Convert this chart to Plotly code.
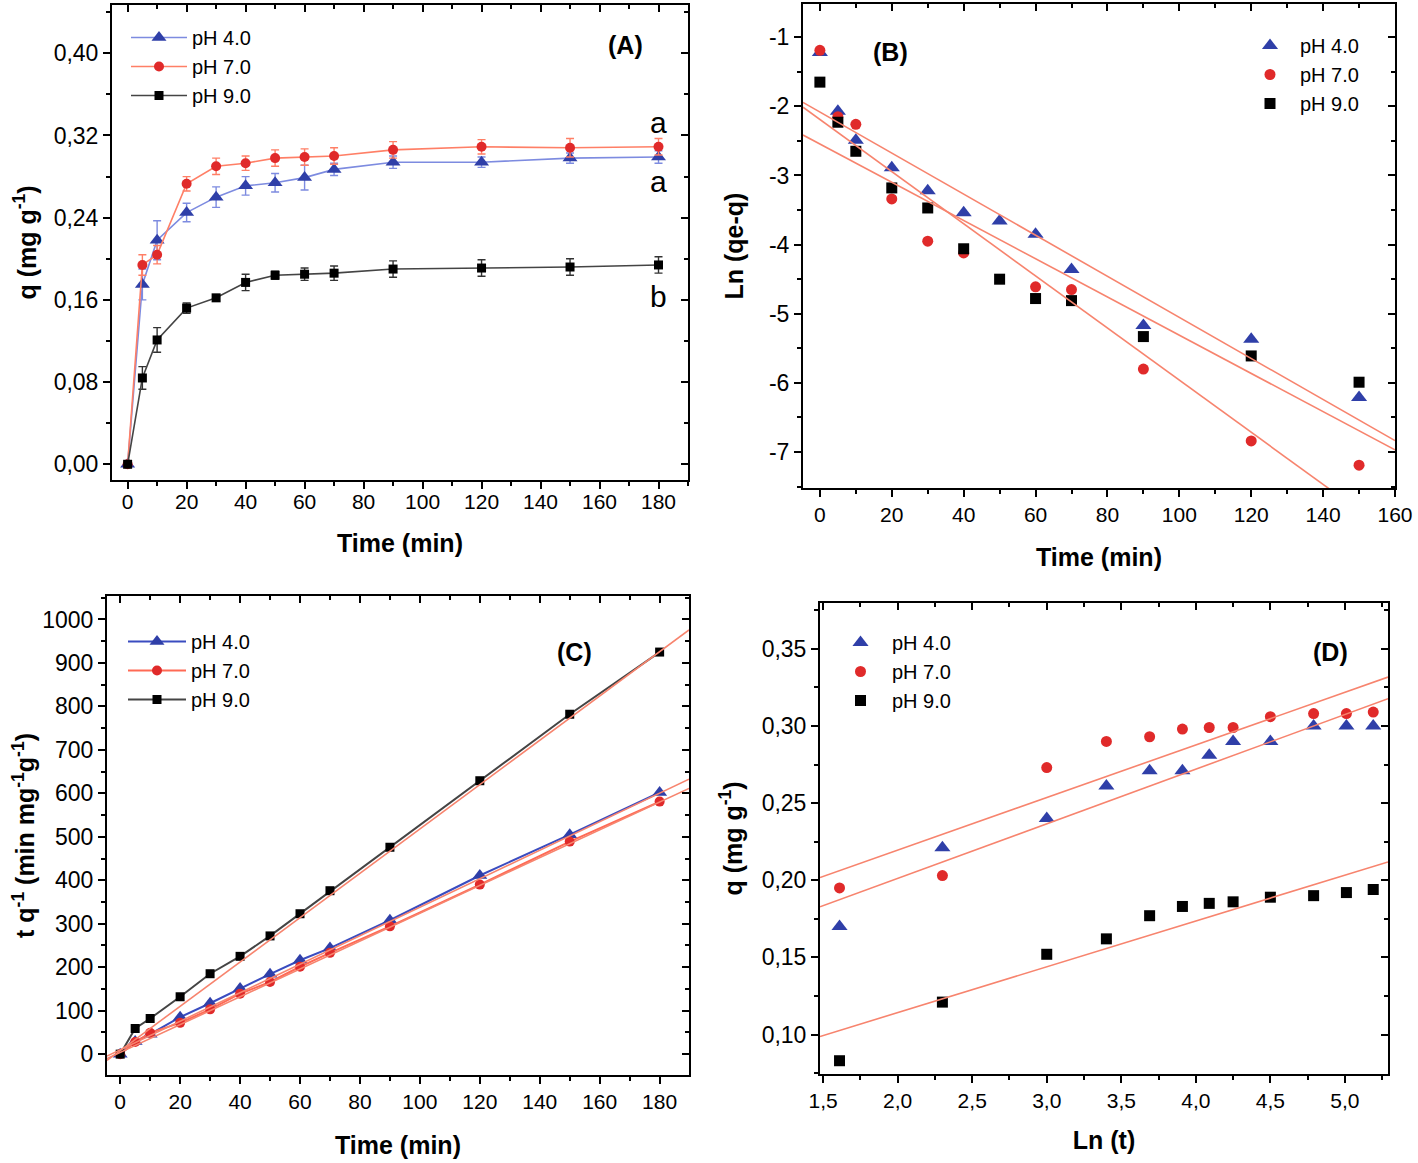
import plotly.graph_objects as go

W, H = 1418, 1163
FONT = "Liberation Sans, Arial, sans-serif"

# ---------------- data ----------------
series_names = ["pH 4.0", "pH 7.0", "pH 9.0"]

# (A) kinetics q vs time
t_A = [0, 5, 10, 20, 30, 40, 50, 60, 70, 90, 120, 150, 180]
qA_ph4 = [0, 0.175, 0.218, 0.245, 0.260, 0.271, 0.274, 0.279, 0.287, 0.294, 0.294, 0.298, 0.299]
qA_ph7 = [0, 0.194, 0.204, 0.273, 0.290, 0.293, 0.298, 0.299, 0.300, 0.306, 0.309, 0.308, 0.309]
qA_ph9 = [0, 0.084, 0.121, 0.152, 0.162, 0.177, 0.184, 0.185, 0.186, 0.190, 0.191, 0.192, 0.194]
errA_ph4 = [0, 0.015, 0.019, 0.009, 0.010, 0.009, 0.009, 0.012, 0.006, 0.006, 0.005, 0.005, 0.006]
errA_ph7 = [0, 0.010, 0.009, 0.007, 0.008, 0.007, 0.008, 0.008, 0.008, 0.008, 0.007, 0.009, 0.008]
errA_ph9 = [0, 0.011, 0.012, 0.005, 0.003, 0.008, 0.004, 0.006, 0.007, 0.008, 0.008, 0.008, 0.008]
letters_A = ["a", "a", "b"]
letters_A_y = [0.333, 0.275, 0.163]

# (B) pseudo-first-order Ln(qe-q) vs time
t_B4 = [0, 5, 10, 20, 30, 40, 50, 60, 70, 90, 120, 150]
lnB_ph4 = [-1.22, -2.07, -2.49, -2.89, -3.22, -3.54, -3.66, -3.85, -4.36, -5.17, -5.37, -6.21]
t_B7 = [0, 5, 10, 20, 30, 40, 60, 70, 90, 120, 150]
lnB_ph7 = [-1.19, -2.15, -2.26, -3.34, -3.95, -4.12, -4.61, -4.65, -5.80, -6.84, -7.19]
t_B9 = [0, 5, 10, 20, 30, 40, 50, 60, 70, 90, 120, 150]
lnB_ph9 = [-1.65, -2.23, -2.65, -3.18, -3.47, -4.06, -4.50, -4.78, -4.81, -5.33, -5.61, -5.99]
fitB_intercept = [-2.082, -2.19, -2.545]
fitB_slope = [-0.0297, -0.0377, -0.02765]

# (C) pseudo-second-order t/q vs time
t_C = [0, 5, 10, 20, 30, 40, 50, 60, 70, 90, 120, 150, 180]
C_ph4 = [0, 29, 46, 85, 117, 151, 184, 216, 244, 308, 411, 505, 602]
C_ph7 = [0, 28, 49, 72, 103, 139, 166, 201, 233, 294, 390, 489, 581]
C_ph9 = [0, 59, 82, 132, 185, 225, 272, 323, 376, 476, 629, 782, 925]
fitC_intercept = [10, 4, 8]
fitC_slope = [3.28, 3.20, 5.10]

# (D) Elovich q vs Ln(t)
lnt_D = [1.61, 2.30, 3.00, 3.40, 3.69, 3.91, 4.09, 4.25, 4.50, 4.79, 5.01, 5.19]
D_ph4 = [0.170, 0.221, 0.240, 0.261, 0.271, 0.271, 0.281, 0.290, 0.290, 0.300, 0.300, 0.300]
D_ph7 = [0.195, 0.203, 0.273, 0.290, 0.293, 0.298, 0.299, 0.299, 0.306, 0.308, 0.308, 0.309]
D_ph9 = [0.083, 0.121, 0.152, 0.162, 0.177, 0.183, 0.185, 0.186, 0.189, 0.190, 0.192, 0.194]
fitD_intercept = [0.1304, 0.1513, 0.0548]
fitD_slope = [0.0354, 0.0341, 0.0297]

# tick labels
tickA_x = [0, 20, 40, 60, 80, 100, 120, 140, 160, 180]
tickA_y = [0.0, 0.08, 0.16, 0.24, 0.32, 0.40]
tickA_y_text = ["0,00", "0,08", "0,16", "0,24", "0,32", "0,40"]
tickB_x = [0, 20, 40, 60, 80, 100, 120, 140, 160]
tickB_y = [-7, -6, -5, -4, -3, -2, -1]
tickB_y_text = ["-7", "-6", "-5", "-4", "-3", "-2", "-1"]
tickC_x = tickA_x
tickC_y = [0, 100, 200, 300, 400, 500, 600, 700, 800, 900, 1000]
tickD_x = [1.5, 2.0, 2.5, 3.0, 3.5, 4.0, 4.5, 5.0]
tickD_x_text = ["1,5", "2,0", "2,5", "3,0", "3,5", "4,0", "4,5", "5,0"]
tickD_y = [0.10, 0.15, 0.20, 0.25, 0.30, 0.35]
tickD_y_text = ["0,10", "0,15", "0,20", "0,25", "0,30", "0,35"]

# ---------------- styles ----------------
MK_COL = ["#2f3fa8", "#e02a2a", "#000000"]
LN_COL = ["#7d8be0", "#ff7f66", "#444444"]
FIT_COL = "#f7846e"
SYMS = ["triangle-up", "circle", "square"]


def px_dom(a, b, total, flip=False):
    if flip:
        return [1 - b / total, 1 - a / total]
    return [a / total, b / total]


panels = {
    "A": dict(x=px_dom(112, 688, W), y=px_dom(5, 480, H, True), xr=[-5.3, 190], yr=[-0.0153, 0.447]),
    "B": dict(x=px_dom(803, 1395, W), y=px_dom(4, 488, H, True), xr=[-4.7, 160], yr=[-7.52, -0.52]),
    "C": dict(x=px_dom(107, 689, W), y=px_dom(596, 1075, H, True), xr=[-4.4, 189.8], yr=[-48, 1054]),
    "D": dict(x=px_dom(820, 1388, W), y=px_dom(603, 1074, H, True), xr=[1.479, 5.289], yr=[0.0744, 0.3797]),
}

fig = go.Figure()

# ---- A ----
for i, (q, e) in enumerate(zip([qA_ph4, qA_ph7, qA_ph9], [errA_ph4, errA_ph7, errA_ph9])):
    fig.add_trace(go.Scatter(
        x=t_A, y=q, mode="lines+markers", name=series_names[i],
        line=dict(color=LN_COL[i], width=1.6),
        marker=dict(symbol=SYMS[i], color=MK_COL[i], size=[13, 10, 9][i]),
        error_y=dict(type="data", array=e, color=LN_COL[i] if i < 2 else "#333333", thickness=1.4, width=4),
        xaxis="x", yaxis="y", legend="legend"))

# ---- B ----
for i, (tt, v) in enumerate(zip([t_B4, t_B7, t_B9], [lnB_ph4, lnB_ph7, lnB_ph9])):
    fig.add_trace(go.Scatter(
        x=tt, y=v, mode="markers", name=series_names[i],
        marker=dict(symbol=SYMS[i], color=MK_COL[i], size=[14, 11, 11][i]),
        xaxis="x2", yaxis="y2", legend="legend2"))
for i in range(3):
    xs = [panels["B"]["xr"][0], panels["B"]["xr"][1]]
    fig.add_trace(go.Scatter(
        x=xs, y=[fitB_intercept[i] + fitB_slope[i] * xv for xv in xs], mode="lines",
        line=dict(color=FIT_COL, width=1.6), showlegend=False, hoverinfo="skip",
        xaxis="x2", yaxis="y2"))

# ---- C ----
for i, v in enumerate([C_ph4, C_ph7, C_ph9]):
    fig.add_trace(go.Scatter(
        x=t_C, y=v, mode="lines+markers", name=series_names[i],
        line=dict(color=["#3a4cc0", "#ff6a55", "#444444"][i], width=2),
        marker=dict(symbol=SYMS[i], color=MK_COL[i], size=[13, 10, 9][i]),
        xaxis="x3", yaxis="y3", legend="legend3"))
for i in range(3):
    xs = [panels["C"]["xr"][0], panels["C"]["xr"][1]]
    fig.add_trace(go.Scatter(
        x=xs, y=[fitC_intercept[i] + fitC_slope[i] * xv for xv in xs], mode="lines",
        line=dict(color=FIT_COL, width=1.6), showlegend=False, hoverinfo="skip",
        xaxis="x3", yaxis="y3"))

# ---- D ----
for i, v in enumerate([D_ph4, D_ph7, D_ph9]):
    fig.add_trace(go.Scatter(
        x=lnt_D, y=v, mode="markers", name=series_names[i],
        marker=dict(symbol=SYMS[i], color=MK_COL[i], size=[14, 11, 11][i]),
        xaxis="x4", yaxis="y4", legend="legend4"))
for i in range(3):
    xs = [panels["D"]["xr"][0], panels["D"]["xr"][1]]
    fig.add_trace(go.Scatter(
        x=xs, y=[fitD_intercept[i] + fitD_slope[i] * xv for xv in xs], mode="lines",
        line=dict(color=FIT_COL, width=1.6), showlegend=False, hoverinfo="skip",
        xaxis="x4", yaxis="y4"))

# empty traces on mirror (inward tick) axes
for k in range(5, 9):
    fig.add_trace(go.Scatter(x=[None], y=[None], xaxis=f"x{k}", yaxis=f"y{k}",
                             showlegend=False, hoverinfo="skip"))

xtickfont = dict(family=FONT, size=21, color="black")
ytickfont = dict(family=FONT, size=23, color="black")
titlefont = dict(family=FONT, size=25, color="black")


def main_axis(dom, rng, tv, tt, dtick_minor, title, standoff, anchor, is_y, lab_off=0):
    return dict(domain=dom, range=rng, tickmode="array", tickvals=tv, ticktext=tt,
                ticks="outside", ticklen=7, tickwidth=2, tickcolor="black",
                minor=dict(dtick=dtick_minor, ticks="outside", ticklen=4, tickwidth=1.5, tickcolor="black"),
                showline=True, linewidth=2, linecolor="black", mirror=True, automargin=False,
                showgrid=False, zeroline=False, tickfont=ytickfont if is_y else xtickfont,
                ticklabelstandoff=lab_off,
                title=dict(text=title, font=titlefont, standoff=standoff), anchor=anchor)


def mirror_axis(rng, tv, dtick_minor, overlay, side, anchor):
    return dict(range=rng, overlaying=overlay, side=side, anchor=anchor, automargin=False,
                tickmode="array", tickvals=tv, showticklabels=False,
                ticks="inside", ticklen=7, tickwidth=2, tickcolor="black",
                minor=dict(dtick=dtick_minor, ticks="inside", ticklen=4, tickwidth=1.5, tickcolor="black"),
                showline=False, showgrid=False, zeroline=False)


tstr = lambda v: [str(x) for x in v]
xtitle = "<b>Time (min)</b>"
layout = dict(
    width=W, height=H, margin=dict(l=0, r=0, t=0, b=0, autoexpand=False),
    paper_bgcolor="white", plot_bgcolor="white", font=dict(family=FONT, color="black"),
    xaxis=main_axis(panels["A"]["x"], panels["A"]["xr"], tickA_x, tstr(tickA_x), 10, xtitle, 22, "y", False, -5),
    yaxis=main_axis(panels["A"]["y"], panels["A"]["yr"], tickA_y, tickA_y_text, 0.04, "<b>q (mg g<sup>-1</sup>)</b>", 10, "x", True),
    xaxis2=main_axis(panels["B"]["x"], panels["B"]["xr"], tickB_x, tstr(tickB_x), 10, xtitle, 23, "y2", False),
    yaxis2=main_axis(panels["B"]["y"], panels["B"]["yr"], tickB_y, tickB_y_text, 0.5, "<b>Ln (qe-q)</b>", 18, "x2", True),
    xaxis3=main_axis(panels["C"]["x"], panels["C"]["xr"], tickC_x, tstr(tickC_x), 10, xtitle, 24, "y3", False),
    yaxis3=main_axis(panels["C"]["y"], panels["C"]["yr"], tickC_y, tstr(tickC_y), 50, "<b>t q<sup>-1</sup> (min mg<sup>-1</sup>g<sup>-1</sup>)</b>", 0, "x3", True),
    xaxis4=main_axis(panels["D"]["x"], panels["D"]["xr"], tickD_x, tickD_x_text, 0.25, "<b>Ln (t)</b>", 20, "y4", False),
    yaxis4=main_axis(panels["D"]["y"], panels["D"]["yr"], tickD_y, tickD_y_text, 0.025, "<b>q (mg g<sup>-1</sup>)</b>", 12, "x4", True),
    xaxis5=mirror_axis(panels["A"]["xr"], tickA_x, 10, "x", "top", "y"),
    yaxis5=mirror_axis(panels["A"]["yr"], tickA_y, 0.04, "y", "right", "x"),
    xaxis6=mirror_axis(panels["B"]["xr"], tickB_x, 10, "x2", "top", "y2"),
    yaxis6=mirror_axis(panels["B"]["yr"], tickB_y, 0.5, "y2", "right", "x2"),
    xaxis7=mirror_axis(panels["C"]["xr"], tickC_x, 10, "x3", "top", "y3"),
    yaxis7=mirror_axis(panels["C"]["yr"], tickC_y, 50, "y3", "right", "x3"),
    xaxis8=mirror_axis(panels["D"]["xr"], tickD_x, 0.25, "x4", "top", "y4"),
    yaxis8=mirror_axis(panels["D"]["yr"], tickD_y, 0.025, "y4", "right", "x4"),
)

legfont = dict(family=FONT, size=20, color="black")
def leg(xpx, ypx, iw=40):
    return dict(x=xpx / W, y=1 - ypx / H, xanchor="left", yanchor="top", font=legfont,
                bgcolor="rgba(0,0,0,0)", borderwidth=0, tracegroupgap=0, itemwidth=iw)

layout["legend"] = leg(126, 18, 56)
layout["legend2"] = leg(1240, 26, 50)
layout["legend3"] = leg(123, 622, 58)
layout["legend4"] = leg(829, 623, 53)
fig.update_layout(**layout)

# panel labels
annos = [("(A)", "x", "y", 0.891, 0.916), ("(B)", "x2", "y2", 0.147, 0.901),
         ("(C)", "x3", "y3", 0.804, 0.883), ("(D)", "x4", "y4", 0.898, 0.896)]
for txt, xa, ya, fx, fy in annos:
    fig.add_annotation(text=f"<b>{txt}</b>", xref=f"{xa} domain", yref=f"{ya} domain",
                       x=fx, y=fy, xanchor="center", yanchor="middle", showarrow=False,
                       font=dict(family=FONT, size=25, color="black"))

for lab, yv in zip(letters_A, letters_A_y):
    fig.add_annotation(text=lab, xref="x", yref="y", x=t_A[-1], y=yv, showarrow=False,
                       xanchor="center", yanchor="middle",
                       font=dict(family=FONT, size=30, color="black"))

fig.write_html("out.html", config={"displayModeBar": False},
               post_script="document.body.style.margin='0px';document.body.style.overflow='hidden';")
